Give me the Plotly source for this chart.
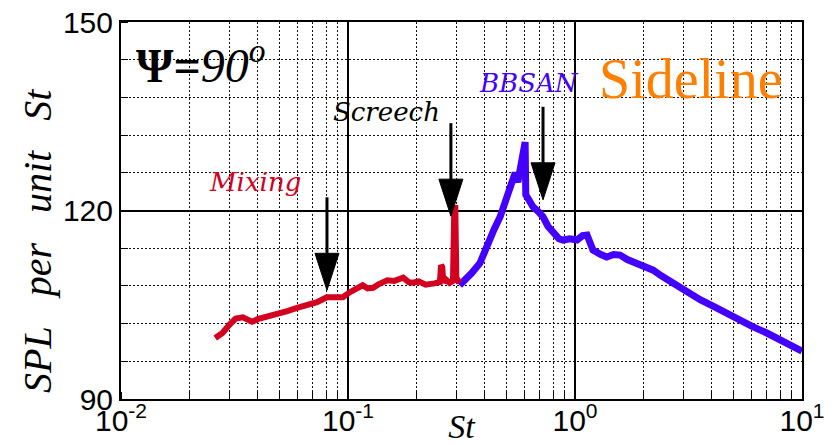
import numpy as np
import plotly.graph_objects as go

# Mixing (red) spectrum
mix_st = [0.026, 0.028, 0.030, 0.032, 0.0344, 0.036, 0.0378, 0.040, 0.0423, 0.046,
          0.050, 0.054, 0.0596, 0.065, 0.073, 0.0807, 0.088, 0.095, 0.102, 0.108,
          0.116, 0.122, 0.129, 0.137, 0.149, 0.160, 0.175, 0.185, 0.193, 0.205,
          0.22, 0.24, 0.254, 0.257, 0.260, 0.263, 0.27, 0.28, 0.29, 0.294, 0.297,
          0.300, 0.31]
mix_spl = [99.7, 100.5, 101.8, 102.8, 103.0, 102.6, 102.3, 102.7, 102.9, 103.3,
           103.7, 104.0, 104.5, 104.8, 105.4, 106.2, 106.3, 106.2, 107.0, 107.5,
           108.1, 107.6, 107.7, 108.3, 108.9, 108.8, 109.3, 108.6, 108.5, 108.7,
           108.2, 108.4, 108.6, 111.3, 111.0, 108.6, 109.0, 108.5, 108.8, 120.4, 120.4,
           109.3, 108.5]

# BBSAN (blue) spectrum
bb_st = [0.31, 0.33, 0.35, 0.381, 0.40, 0.42, 0.44, 0.468, 0.49, 0.518,
         0.545, 0.56, 0.575, 0.59, 0.603, 0.607, 0.62, 0.653, 0.69, 0.723,
         0.76, 0.80, 0.85, 0.885, 0.95, 1.02, 1.08, 1.13, 1.2, 1.3,
         1.38, 1.48, 1.58, 1.7, 1.88, 2.05, 2.21, 2.4, 2.57, 3.0,
         3.56, 4.2, 4.97, 6.0, 7.0, 8.3, 9.8, 10.0]
bb_spl = [108.1, 109.0, 110.0, 111.6, 113.5, 115.6, 117.0, 119.0, 121.0, 123.3,
          126.0, 124.5, 127.5, 129.5, 130.9, 122.5, 121.8, 120.6, 119.8, 119.0,
          117.5, 116.4, 115.5, 115.3, 115.5, 115.3, 116.0, 116.1, 113.7, 113.0,
          112.6, 113.0, 112.9, 112.2, 111.6, 111.0, 110.5, 109.6, 108.9, 107.5,
          105.8, 104.5, 103.0, 101.6, 100.5, 99.0, 97.8, 97.6]

# arrow tips (St, SPL)
arrow_st = [0.0808, 0.284, 0.723]
arrow_spl = [107.3, 119.1, 121.7]

x_tickvals = [0.01, 0.1, 1, 10]
x_ticktext = ["10<sup>-2</sup>", "10<sup>-1</sup>", "10<sup>0</sup>", "10<sup>1</sup>"]
y_tickvals = [90, 120, 150]

RED = "#d3001f"
BLUE = "#4400ff"
ORANGE = "#ff7f00"
TICKFONT = dict(family="Liberation Sans Narrow, Arial Narrow, Liberation Sans", size=30, color="black")

fig = go.Figure()
fig.add_trace(go.Scatter(x=bb_st, y=bb_spl, mode="lines",
                         line=dict(color=BLUE, width=7), showlegend=False))
fig.add_trace(go.Scatter(x=mix_st, y=mix_spl, mode="lines",
                         line=dict(color=RED, width=6), showlegend=False))

dotgrid = dict(showgrid=True, gridcolor="#111", gridwidth=1.2, griddash="2px,2px",
               ticks="inside", ticklen=7, tickcolor="black")

fig.update_xaxes(type="log", range=[-2, 1], tickvals=x_tickvals, ticktext=x_ticktext,
                 tickfont=TICKFONT, showgrid=True, gridcolor="black", gridwidth=1.5,
                 ticks="", showline=True, linecolor="black", linewidth=2, mirror=True,
                 minor=dict(dtick="D1", **dotgrid), ticklabelstandoff=-6, automargin=False,
                 title=dict(text="<i>St</i>", font=dict(family="Liberation Serif", size=34, color="black"),
                            standoff=0),
                 zeroline=False)
fig.update_yaxes(range=[90, 150], tickvals=y_tickvals, tickfont=TICKFONT,
                 showgrid=True, gridcolor="black", gridwidth=1.5, ticks="", automargin=False,
                 showline=True, linecolor="black", linewidth=2, mirror=True,
                 minor=dict(dtick=6, **dotgrid),
                 zeroline=False)

# arrows
for xs, ys in zip(arrow_st, arrow_spl):
    fig.add_shape(type="line", xref="x", yref="y", xsizemode="pixel", ysizemode="pixel",
                  xanchor=xs, yanchor=ys, x0=0, x1=0, y0=30, y1=93,
                  line=dict(color="black", width=3))
    fig.add_shape(type="path", xref="x", yref="y", xsizemode="pixel", ysizemode="pixel",
                  xanchor=xs, yanchor=ys, path="M0,0 L-12,37 L12,37 Z",
                  fillcolor="black", line=dict(color="black", width=1))

def px_x(p):
    return (p - 121) / 681

def px_y(p):
    return (399 - p) / 377

def label(px, py, text, font, angle=0):
    fig.add_annotation(xref="paper", yref="paper", x=px_x(px), y=px_y(py), showarrow=False,
                       xanchor="center", yanchor="middle", text=text, font=font,
                       textangle=angle)

label(37, 241, "<i>SPL&nbsp;&nbsp; per&nbsp;&nbsp; unit&nbsp;&nbsp; St</i>",
      dict(family="Liberation Serif", size=40, color="black"), angle=-90)
label(201, 62, "<b>Ψ=</b><i>90<sup>o</sup></i>",
      dict(family="Liberation Serif", size=48, color="black"))
label(255, 182, "<i>Mixing</i>", dict(family="DejaVu Serif", size=26, color=RED))
label(386, 112, "<i>Screech</i>", dict(family="DejaVu Serif", size=26, color="black"))
label(529, 83, "<i>BBSAN</i>", dict(family="DejaVu Serif", size=26, color=BLUE))
label(691, 79, "Sideline", dict(family="Liberation Serif", size=56, color=ORANGE))

fig.update_layout(width=836, height=445, margin=dict(l=121, r=34, t=22, b=46),
                  paper_bgcolor="white", plot_bgcolor="white", showlegend=False)

fig.write_html("out.html")
